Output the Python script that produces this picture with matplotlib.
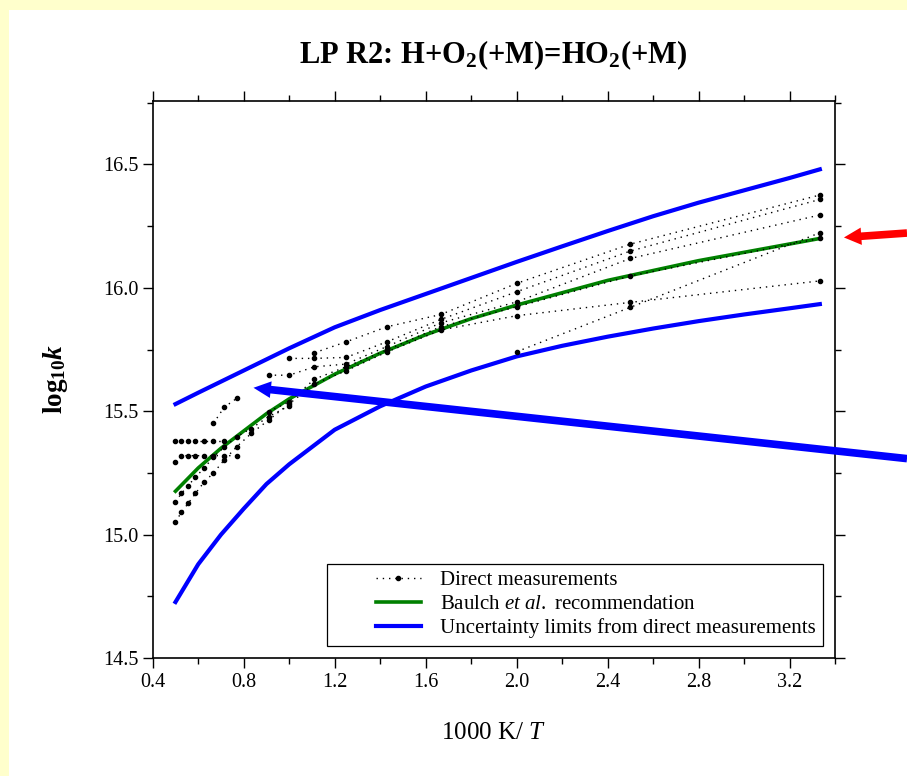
import matplotlib
matplotlib.use('Agg')
import matplotlib.pyplot as plt
from matplotlib.lines import Line2D
from matplotlib.legend_handler import HandlerLine2D
from matplotlib.patches import Rectangle
from matplotlib.ticker import MultipleLocator, FormatStrFormatter

# direct measurements, x = 1000 K / T, y = log10 k
meas_a_x = [0.5, 0.526, 0.556, 0.588, 0.625, 0.667, 0.714]
meas_a_y = [15.38, 15.38, 15.38, 15.38, 15.38, 15.38, 15.38]

meas_b_x = [0.5, 0.526, 0.556, 0.588, 0.625, 0.667, 0.714, 0.769]
meas_b_y = [15.295, 15.32, 15.32, 15.32, 15.32, 15.32, 15.32, 15.32]

meas_c_x = [0.5, 0.526, 0.556, 0.588, 0.625, 0.667, 0.714, 0.769, 0.833, 0.909, 1.0]
meas_c_y = [15.133, 15.167, 15.198, 15.234, 15.268, 15.315, 15.354, 15.397, 15.43, 15.478, 15.522]

meas_d_x = [0.5, 0.526, 0.556, 0.588, 0.625, 0.667, 0.714, 0.769, 0.833, 0.909,
            1.0, 1.111, 1.25, 1.429, 1.667, 2.0, 2.5, 3.333]
meas_d_y = [15.052, 15.09, 15.127, 15.167, 15.212, 15.25, 15.302, 15.356, 15.41, 15.464,
            15.53, 15.61, 15.664, 15.74, 15.829, 15.887, 15.941, 16.028]

meas_e_x = [0.667, 0.714, 0.769]
meas_e_y = [15.451, 15.516, 15.552]

meas_f_x = [0.909, 1.0, 1.111, 1.25, 1.429, 1.667, 2.0, 2.5, 3.333]
meas_f_y = [15.646, 15.646, 15.68, 15.691, 15.762, 15.858, 15.943, 16.119, 16.295]

meas_g_x = [1.0, 1.111, 1.25, 1.429, 1.667, 2.0, 2.5, 3.333]
meas_g_y = [15.714, 15.714, 15.718, 15.781, 15.872, 15.984, 16.149, 16.358]

meas_h_x = [1.111, 1.25, 1.429, 1.667, 2.0, 2.5, 3.333]
meas_h_y = [15.737, 15.781, 15.842, 15.892, 16.018, 16.177, 16.376]

meas_i_x = [0.909, 1.0, 1.111, 1.25, 1.429, 1.667, 2.0, 2.5, 3.333]
meas_i_y = [15.498, 15.538, 15.63, 15.68, 15.748, 15.843, 15.923, 16.048, 16.2]

meas_j_x = [2.0, 2.5, 3.333]
meas_j_y = [15.741, 15.921, 16.223]

measurements = [
    (meas_a_x, meas_a_y), (meas_b_x, meas_b_y), (meas_c_x, meas_c_y),
    (meas_d_x, meas_d_y), (meas_e_x, meas_e_y), (meas_f_x, meas_f_y),
    (meas_g_x, meas_g_y), (meas_h_x, meas_h_y), (meas_i_x, meas_i_y),
    (meas_j_x, meas_j_y),
]

# Baulch et al. recommendation
baulch_x = [0.5, 0.6, 0.7, 0.8, 0.9, 1.0, 1.2, 1.4, 1.6, 1.8, 2.0, 2.4, 2.8, 3.333]
baulch_y = [15.176, 15.27, 15.35, 15.42, 15.49, 15.55, 15.65, 15.735, 15.81, 15.875,
            15.93, 16.03, 16.11, 16.2]

# uncertainty limits
limit_x = [0.5, 0.6, 0.7, 0.8, 0.9, 1.0, 1.2, 1.4, 1.6, 1.8, 2.0, 2.2, 2.4, 2.6,
           2.8, 3.0, 3.2, 3.333]
upper_y = [15.529, 15.575, 15.62, 15.665, 15.71, 15.755, 15.84, 15.91, 15.975, 16.04,
           16.105, 16.168, 16.23, 16.29, 16.345, 16.395, 16.445, 16.48]
lower_y = [14.727, 14.88, 15.0, 15.105, 15.205, 15.285, 15.425, 15.52, 15.6, 15.665,
           15.722, 15.765, 15.802, 15.835, 15.865, 15.892, 15.917, 15.934]

plt.rcParams['font.family'] = 'Liberation Serif'
plt.rcParams['mathtext.fontset'] = 'custom'
plt.rcParams['mathtext.rm'] = 'Liberation Serif'
plt.rcParams['mathtext.it'] = 'Liberation Serif:italic'
plt.rcParams['mathtext.bf'] = 'Liberation Serif:bold'
plt.rcParams['mathtext.bfit'] = 'Liberation Serif:bold:italic'

fig = plt.figure(figsize=(9.07, 7.76), dpi=100)
fig.patch.set_facecolor('#ffffcc')
fig.add_artist(Rectangle((9 / 907, 0), 1, 1 - 10 / 776, transform=fig.transFigure,
                         facecolor='white', edgecolor='none', zorder=-1))

ax = fig.add_axes([0.1684, 0.152, 0.7523, 0.7182])

for i, (xs, ys) in enumerate(measurements):
    ax.plot(xs, ys, ls=(0, (1, 3.5)), color='black', lw=1.0, marker='o', ms=3,
            label='Direct measurements' if i == 0 else None, zorder=3)
ax.plot(baulch_x, baulch_y, color='#008000', lw=2.6, label=r'Baulch $et\ al.$ recommendation', zorder=2)
ax.plot(limit_x, upper_y, color='#0000ff', lw=3, label='Uncertainty limits from direct measurements', zorder=2)
ax.plot(limit_x, lower_y, color='#0000ff', lw=3, zorder=2)

ax.set_xlim(0.4, 3.4)
ax.set_ylim(14.5, 16.758)
ax.xaxis.set_major_locator(MultipleLocator(0.4))
ax.xaxis.set_minor_locator(MultipleLocator(0.2))
ax.yaxis.set_major_locator(MultipleLocator(0.5))
ax.yaxis.set_minor_locator(MultipleLocator(0.25))
ax.xaxis.set_major_formatter(FormatStrFormatter('%.1f'))
ax.yaxis.set_major_formatter(FormatStrFormatter('%.1f'))
ax.tick_params(which='both', direction='out', top=True, right=True, labelsize=14.5, width=1)
ax.tick_params(which='major', length=7)
ax.tick_params(which='minor', length=4)
for s in ax.spines.values():
    s.set_linewidth(1.2)

# legend handles sit in the right part of a wide handle box
leg = ax.legend(loc='lower right', fontsize=15, frameon=True, fancybox=False,
                edgecolor='black', framealpha=1, handlelength=4.15, handletextpad=0.9,
                borderaxespad=0.6, borderpad=0.35, labelspacing=0.2, numpoints=1,
                handler_map={Line2D: HandlerLine2D(xpad=2.0)})
leg.get_frame().set_linewidth(0.9)

# arrows pointing into the plot from the right edge
ax.annotate('', xy=(3.439, 16.204), xycoords='data', xytext=(1.0, 0.6997),
            textcoords='figure fraction', annotation_clip=False,
            arrowprops=dict(arrowstyle='simple,head_length=1.25,head_width=1.25,tail_width=0.55',
                            color='#ff0000', lw=0, mutation_scale=10, shrinkA=0, shrinkB=0),
            zorder=6)
ax.annotate('', xy=(0.843, 15.595), xycoords='data', xytext=(1.0, 0.409),
            textcoords='figure fraction', annotation_clip=False,
            arrowprops=dict(arrowstyle='simple,head_length=1.25,head_width=1.2,tail_width=0.55',
                            color='#0000ff', lw=0, mutation_scale=10, shrinkA=0, shrinkB=0),
            zorder=6)

fig.text(0.5443, 0.929, r'LP R2: H+O$_{\mathbf{2}}$(+M)=HO$_{\mathbf{2}}$(+M)',
         ha='center', va='center', fontsize=22, fontweight='bold')
fig.text(0.5443, 0.0554, r'1000 K/ $T$', ha='center', va='center', fontsize=18)
fig.text(0.061, 0.511, r'$\mathbf{log}_{\mathbf{10}}\mathbfit{k}$', ha='center', va='center',
         rotation=90, fontsize=19.5)

fig.savefig('out.png', dpi=100, facecolor=fig.get_facecolor())
